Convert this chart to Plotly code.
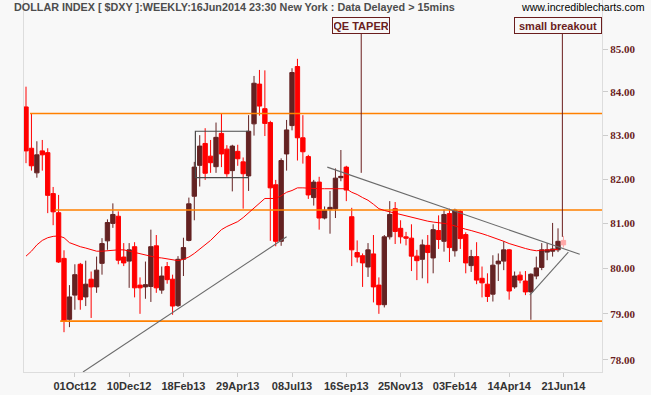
import math
import plotly.graph_objects as go

# ---------------- data ----------------
weeks = list(range(100))
opens = [83.65, 82.70, 82.14, 82.64, 82.60, 81.67, 81.24, 80.22, 78.88, 79.41,
         80.09, 79.37, 79.76, 79.59, 80.11, 80.61, 81.00, 81.16, 80.25, 80.16,
         80.48, 79.63, 79.59, 79.60, 80.50, 79.52, 80.04, 79.76, 79.18, 80.20,
         80.62, 81.61, 82.31, 82.81, 82.52, 82.28, 83.04, 82.68, 82.19, 82.63,
         82.39, 82.07, 83.26, 84.18, 83.61, 83.29, 81.87, 80.60, 82.57, 83.22,
         84.59, 82.94, 82.51, 81.58, 81.93, 81.12, 81.31, 81.33, 82.03, 82.27,
         81.15, 80.35, 80.28, 80.03, 80.32, 79.63, 79.20, 80.70, 81.33, 80.89,
         80.70, 80.67, 80.27, 80.20, 80.51, 80.23, 80.84, 80.60, 81.22, 80.39,
         81.27, 80.75, 80.06, 80.26, 79.78, 79.65, 79.43, 80.10, 80.16, 80.41,
         79.59, 79.85, 79.72, 79.48, 79.83, 80.02, 80.36, 80.38, 80.41, 80.52]
highs = [84.12, 83.50, 82.86, 82.89, 82.70, 81.82, 81.64, 80.40, 79.63, 80.09,
         80.12, 80.17, 79.93, 80.26, 80.67, 81.09, 81.45, 81.27, 80.56, 80.56,
         80.58, 79.80, 80.15, 80.86, 80.74, 80.04, 80.14, 79.86, 80.27, 80.68,
         81.58, 82.39, 83.00, 83.16, 82.89, 83.29, 83.49, 82.77, 82.78, 82.78,
         82.49, 83.46, 84.37, 84.51, 84.50, 83.33, 81.98, 82.47, 83.35, 84.55,
         84.77, 83.46, 82.55, 81.98, 82.05, 81.38, 81.73, 82.24, 82.66, 82.30,
         81.35, 80.62, 80.33, 80.56, 80.74, 79.80, 80.74, 81.50, 81.48, 81.07,
         80.81, 80.98, 80.41, 80.64, 80.74, 80.98, 81.18, 81.31, 81.33, 81.33,
         81.30, 80.80, 80.41, 80.58, 80.04, 79.89, 80.29, 80.33, 80.60, 80.43,
         79.93, 79.93, 79.94, 79.89, 80.26, 80.56, 80.56, 81.01, 80.89, 80.72]
lows = [82.36, 82.19, 82.03, 82.19, 81.23, 80.96, 80.12, 78.60, 78.71, 79.09,
        79.09, 79.17, 78.91, 79.46, 79.86, 80.41, 80.90, 80.09, 80.05, 79.57,
        79.36, 79.00, 79.33, 79.26, 79.46, 79.44, 79.66, 78.98, 79.15, 79.83,
        80.60, 81.07, 81.83, 81.98, 82.14, 82.14, 82.27, 82.05, 81.72, 82.30,
        81.33, 81.73, 82.99, 83.45, 82.98, 80.61, 80.49, 80.50, 82.19, 83.11,
        82.42, 82.35, 81.55, 81.40, 80.86, 81.09, 80.77, 81.12, 81.95, 81.50,
        80.05, 80.13, 79.59, 79.81, 79.25, 79.00, 79.14, 80.64, 80.54, 80.55,
        80.51, 79.94, 79.74, 79.78, 79.67, 79.89, 80.43, 80.37, 80.14, 80.26,
        80.43, 79.89, 79.92, 79.65, 79.36, 79.26, 79.27, 79.72, 79.96, 79.31,
        79.55, 79.67, 79.41, 78.87, 79.76, 79.96, 80.18, 80.26, 80.36, 80.46]
closes = [82.64, 82.30, 82.55, 82.55, 81.63, 81.26, 80.14, 78.84, 79.37, 79.86,
          79.31, 79.65, 79.59, 79.96, 80.55, 81.02, 81.20, 80.18, 80.12, 80.41,
          79.57, 79.57, 79.64, 80.48, 79.57, 79.83, 79.75, 79.17, 80.20, 80.46,
          81.44, 82.27, 82.75, 82.13, 82.37, 82.95, 82.57, 82.12, 82.75, 82.46,
          82.12, 83.09, 84.20, 83.67, 83.27, 81.80, 80.60, 82.42, 83.12, 84.45,
          82.94, 82.62, 81.64, 81.93, 81.12, 81.29, 81.36, 82.02, 82.06, 81.75,
          80.41, 80.25, 80.12, 80.41, 79.59, 79.20, 80.70, 81.20, 80.82, 80.70,
          80.67, 80.27, 80.17, 80.52, 80.35, 80.86, 80.64, 81.20, 80.46, 81.30,
          80.66, 80.12, 80.26, 79.74, 79.68, 79.38, 80.07, 80.16, 80.41, 79.50,
          79.83, 79.74, 79.48, 79.87, 80.01, 80.41, 80.41, 80.43, 80.60, 80.62]
ma30 = [80.27, 80.38, 80.52, 80.62, 80.68, 80.71, 80.72, 80.68, 80.57, 80.52,
        80.48, 80.45, 80.42, 80.38, 80.38, 80.39, 80.41, 80.41, 80.41, 80.38,
        80.35, 80.33, 80.30, 80.27, 80.24, 80.23, 80.21, 80.19, 80.17, 80.20,
        80.25, 80.33, 80.42, 80.52, 80.62, 80.74, 80.86, 80.93, 80.99, 81.04,
        81.13, 81.24, 81.35, 81.47, 81.56, 81.56, 81.56, 81.62, 81.70, 81.74,
        81.80, 81.80, 81.79, 81.78, 81.78, 81.78, 81.78, 81.78, 81.78, 81.78,
        81.70, 81.65, 81.58, 81.52, 81.43, 81.33, 81.29, 81.26, 81.23, 81.20,
        81.16, 81.13, 81.11, 81.08, 81.05, 81.03, 81.02, 81.00, 80.98, 80.94,
        80.91, 80.87, 80.84, 80.81, 80.77, 80.73, 80.69, 80.64, 80.60, 80.55,
        80.51, 80.48, 80.44, 80.41, 80.39, 80.40, 80.41, 80.41, 80.42]

tick_idx = [9, 19, 29, 39, 49, 59, 69, 79, 89, 99]
tick_text = ["01Oct12", "10Dec12", "18Feb13", "29Apr13", "08Jul13",
             "16Sep13", "25Nov13", "03Feb14", "14Apr14", "21Jun14"]
y_ticks = [78, 79, 80, 81, 82, 83, 84, 85]

h_levels = [83.50, 81.30, 78.84]
h_start = [0.74, 5.3, 6.3]

support1 = ([10.5, 48.0], [77.74, 80.70])
resist = ([55.5, 102.0], [82.27, 80.31])
support2 = ([92.8, 99.9], [79.41, 80.36])
rect_x = [41.07, 31.2, 31.2, 41.07]
rect_y = [83.09, 83.09, 82.03, 82.03]

qe_x, qe_y = 61.75, [85.37, 82.14]
bo_x, bo_y = 98.8, [85.37, 80.70]

X_MAX = 106.1
Y_MIN, Y_MAX = 77.74, 86.16

# ---------------- colors ----------------
BG = "#f8f8f8"
RED = "#ff0000"
DARK = "#642222"
PINK = "#ffa8a8"
ORANGE = "#ff8000"
GRAY = "#6a6a6a"
MAROON = "#6b1e1e"

fig = go.Figure()

for lvl, st in zip(h_levels, h_start):
    fig.add_trace(go.Scatter(x=[st, X_MAX], y=[lvl, lvl], mode="lines",
                             line=dict(color=ORANGE, width=1.6), hoverinfo="skip"))

fig.add_trace(go.Scatter(x=weeks[:len(ma30)], y=ma30, mode="lines",
                         line=dict(color=RED, width=1), hoverinfo="skip"))

fig.add_trace(go.Scatter(x=rect_x, y=rect_y, mode="lines",
                         line=dict(color="#4a4a4a", width=1.2), hoverinfo="skip"))

fig.add_trace(go.Candlestick(
    x=weeks[:99], open=opens[:99], high=highs[:99], low=lows[:99], close=closes[:99],
    increasing=dict(line=dict(color=DARK, width=1), fillcolor=DARK),
    decreasing=dict(line=dict(color=RED, width=1), fillcolor=RED),
    whiskerwidth=0, hoverinfo="skip"))
fig.add_trace(go.Candlestick(
    x=weeks[99:], open=opens[99:], high=highs[99:], low=lows[99:], close=closes[99:],
    increasing=dict(line=dict(color=PINK, width=1), fillcolor=PINK),
    decreasing=dict(line=dict(color=PINK, width=1), fillcolor=PINK),
    whiskerwidth=0, hoverinfo="skip"))

for xs, ys in (support1, resist, support2):
    fig.add_trace(go.Scatter(x=xs, y=ys, mode="lines",
                             line=dict(color=GRAY, width=1.1), hoverinfo="skip"))

fig.add_trace(go.Scatter(x=[qe_x, qe_x], y=qe_y, mode="lines",
                         line=dict(color=MAROON, width=1), hoverinfo="skip"))
fig.add_trace(go.Scatter(x=[bo_x, bo_x], y=bo_y, mode="lines",
                         line=dict(color=MAROON, width=1), hoverinfo="skip"))

PLOT_H = 372.0


def paper_y(px):
    return (PLOT_H - px) / PLOT_H


annotations = [
    dict(x=qe_x, xref="x", y=paper_y(25.8), yref="paper", text="<b>QE TAPER</b>",
         showarrow=False, xanchor="center", yanchor="middle",
         font=dict(family="Liberation Sans", size=11, color=MAROON),
         bordercolor=MAROON, borderwidth=1, borderpad=1, width=54, height=13,
         bgcolor=BG),
    dict(x=97.97, xref="x", y=paper_y(25.8), yref="paper", text="<b>small breakout</b>",
         showarrow=False, xanchor="center", yanchor="middle",
         font=dict(family="Liberation Sans", size=11, color=MAROON),
         bordercolor=MAROON, borderwidth=1, borderpad=1, width=84, height=13,
         bgcolor=BG),
    dict(x=(519 - 24) / 578.0, xref="paper", y=paper_y(7.5), yref="paper",
         text="www.incrediblecharts.com", showarrow=False, xanchor="left",
         yanchor="middle", font=dict(family="Liberation Sans", size=10.6, color="#000000")),
]

fig.update_layout(
    width=651, height=395,
    margin=dict(l=24, r=49, t=0, b=23),
    paper_bgcolor=BG, plot_bgcolor=BG,
    showlegend=False, hovermode=False,
    boxgap=0.2, boxgroupgap=0,
    title=dict(text="<b>DOLLAR INDEX [ $DXY ]:WEEKLY:16Jun2014 23:30 New York : Data Delayed &gt; 15mins</b>",
               x=14 / 651, xref="container", xanchor="left",
               y=1 - 7.5 / 395, yref="container", yanchor="middle",
               font=dict(family="Liberation Sans", size=10.8, color="#4d4d4d")),
    annotations=annotations,
    xaxis=dict(range=[-0.37, X_MAX], tickvals=tick_idx, ticktext=tick_text,
               tickfont=dict(family="Liberation Sans", size=11, color="#333333", weight="bold"),
               ticks="outside", ticklen=4, tickcolor="#cccccc",
               showline=True, linecolor="#dddddd", mirror=True,
               showgrid=False, zeroline=False, rangeslider=dict(visible=False)),
    yaxis=dict(type="log", range=[math.log10(Y_MIN), math.log10(Y_MAX)], side="right",
               tickvals=y_ticks, ticktext=["%.2f" % v for v in y_ticks],
               tickfont=dict(family="Liberation Serif", size=11, color=MAROON, weight="bold"),
               ticks="outside", ticklen=5, tickcolor="#cccccc",
               showline=True, linecolor="#dddddd", mirror=True,
               showgrid=False, zeroline=False),
)

fig.write_html("out.html")
